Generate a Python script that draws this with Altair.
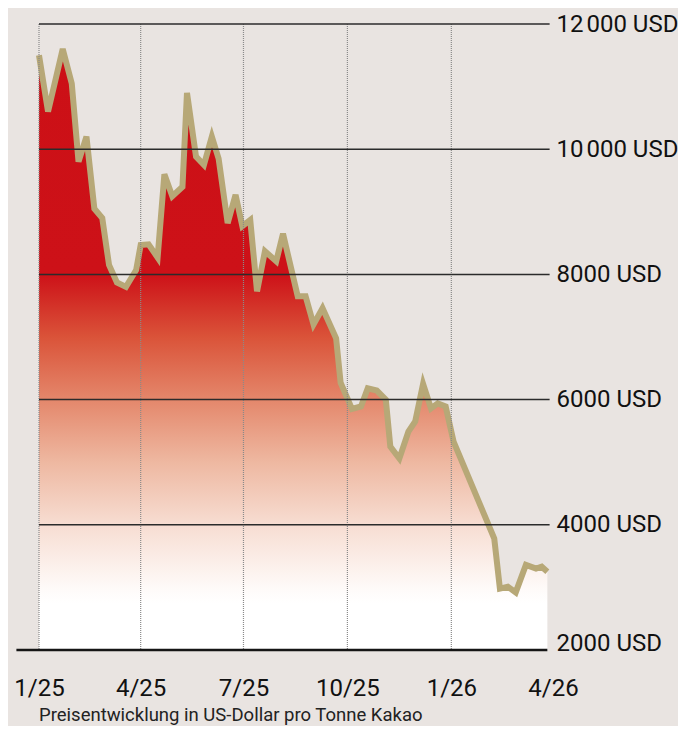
import altair as alt
import pandas as pd

# ---- data ----
dates = ["2025-01-01", "2025-01-09", "2025-01-22", "2025-01-30", "2025-02-05",
         "2025-02-12", "2025-02-19", "2025-02-26", "2025-03-04", "2025-03-11",
         "2025-03-19", "2025-03-28", "2025-04-01", "2025-04-08", "2025-04-16",
         "2025-04-22", "2025-04-29", "2025-05-08", "2025-05-12", "2025-05-20",
         "2025-05-27", "2025-06-03", "2025-06-09", "2025-06-17", "2025-06-24",
         "2025-06-30", "2025-07-07", "2025-07-13", "2025-07-20", "2025-07-30",
         "2025-08-05", "2025-08-18", "2025-08-25", "2025-09-01", "2025-09-09",
         "2025-09-21", "2025-09-25", "2025-10-05", "2025-10-13", "2025-10-19",
         "2025-10-27", "2025-11-04", "2025-11-08", "2025-11-16", "2025-11-24",
         "2025-11-30", "2025-12-07", "2025-12-14", "2025-12-20", "2025-12-27",
         "2026-01-03", "2026-02-08", "2026-02-13", "2026-02-20", "2026-02-27",
         "2026-03-08", "2026-03-17", "2026-03-22", "2026-03-27"]
prices = [11500, 10600, 11600, 11050, 9800,
          10200, 9050, 8900, 8150, 7870,
          7800, 8070, 8470, 8480, 8270,
          9600, 9250, 9400, 10900, 9880,
          9750, 10200, 9850, 8820, 9270,
          8770, 8870, 7730, 8370, 8210,
          8650, 7650, 7650, 7200, 7460,
          6980, 6270, 5850, 5890, 6180,
          6145, 6000, 5250, 5060, 5490,
          5650, 6250, 5860, 5940, 5890,
          5330, 3780, 2980, 3010, 2920,
          3360, 3300, 3330, 3250]

x_ticks = ["2025-01-01", "2025-04-01", "2025-07-01", "2025-10-01", "2026-01-01", "2026-04-01"]
x_grid = ["2025-01-01", "2025-04-01", "2025-07-01", "2025-10-01", "2026-01-01"]
y_ticks = [2000, 4000, 6000, 8000, 10000, 12000]
y_tick_labels = ["2000 USD", "4000 USD", "6000 USD", "8000 USD", "10\u202f000 USD", "12\u202f000 USD"]
y_grid = [4000, 6000, 8000, 10000, 12000]
caption = "Preisentwicklung in US-Dollar pro Tonne Kakao"

# gradient stops (value level -> colour)
grad_levels = [8000, 7000, 6000, 5000, 4000, 3000, 2750, 2000]
grad_colors = ["#cd1118", "#da5339", "#e4876b", "#eeb8a1", "#f7ddd2", "#fefaf8", "#ffffff", "#ffffff"]
top_red = "#cc1016"

y_min, y_max = 2000, 12000
x_start, x_end = "2025-01-01", "2026-04-01"
grid_end = "2026-03-29"
base_start = "2024-12-12"


def dt(s):
    y, m, d = (int(p) for p in s.split("-"))
    return alt.DateTime(year=y, month=m, date=d, utc=True)


x_scale = alt.Scale(type="utc", domain=[dt(x_start), dt(x_end)])
y_scale = alt.Scale(domain=[y_min, y_max], nice=False, zero=False)

df = pd.DataFrame({"date": dates, "price": prices})

data_max = max(prices)
stops = [alt.GradientStop(offset=0, color=top_red)]
for lv, col in zip(grad_levels, grad_colors):
    stops.append(alt.GradientStop(offset=(data_max - lv) / (data_max - y_min), color=col))

label_expr = " : ".join(
    f"datum.value == {v} ? '{t}'" for v, t in zip(y_ticks, y_tick_labels)
) + " : ''"

FONT = "Roboto"

area = alt.Chart(df).mark_area(
    fill=alt.Gradient(gradient="linear", stops=stops, x1=0, x2=0, y1=0, y2=1),
).encode(
    x=alt.X("date:T", scale=x_scale, title=None,
            axis=alt.Axis(values=[dt(s) for s in x_ticks], format="%-m/%y",
                          labelFont=FONT, labelFontSize=24, labelColor="#111",
                          ticks=False, domain=False, grid=False, title=None,
                          labelPadding=26, labelFlush=False, labelOverlap=False)),
    y=alt.Y("price:Q", scale=y_scale, title=None,
            axis=alt.Axis(orient="right", values=y_ticks, labelExpr=label_expr,
                          labelFont=FONT, labelFontSize=24, labelColor="#111",
                          ticks=False, domain=False, grid=False, title=None,
                          labelPadding=3, labelFlush=False, labelOverlap=False,
                          labelBaseline={"condition": {"test": f"datum.value == {y_min}",
                                                       "value": "alphabetic"},
                                         "value": "middle"})),
    y2=alt.datum(y_min),
)

line = alt.Chart(df).mark_line(
    color="#b7a877", strokeWidth=6, strokeJoin="miter"
).encode(
    x=alt.X("date:T", scale=x_scale, title=None),
    y=alt.Y("price:Q", scale=y_scale, title=None),
)

vgrid = alt.Chart(pd.DataFrame({"date": x_grid})).mark_rule(
    color="#8a8a8a", strokeWidth=1.2, strokeDash=[1, 1]
).encode(
    x=alt.X("date:T", scale=x_scale, title=None),
    y=alt.datum(y_max),
    y2=alt.datum(y_min),
)

hgrid = alt.Chart(pd.DataFrame({"v": y_grid, "start": x_start, "end": grid_end})).mark_rule(
    color="#2b2b2b", strokeWidth=1.5
).encode(
    y=alt.Y("v:Q", scale=y_scale, title=None),
    x=alt.X("start:T", scale=x_scale, title=None),
    x2="end:T",
)

baseline = alt.Chart(pd.DataFrame({"v": [y_min], "start": [base_start], "end": [dates[-1]]})).mark_rule(
    color="#151515", strokeWidth=2.5
).encode(
    y=alt.Y("v:Q", scale=y_scale, title=None),
    x=alt.X("start:T", scale=x_scale, title=None),
    x2="end:T",
)

chart = alt.layer(area, line, vgrid, hgrid, baseline).properties(
    width=514,
    height=626,
    padding={"left": 31, "top": 16, "right": 125, "bottom": 76},
    autosize=alt.AutoSizeParams(type="none"),
    background="#e9e4e1",
    title=alt.TitleParams(text=caption, orient="bottom", anchor="start", frame="group",
                          font=FONT, fontSize=18.5, fontWeight="normal", color="#222",
                          offset=6),
).configure_view(stroke=None)

chart.save("out.html", embed_options={"renderer": "svg", "actions": False})
